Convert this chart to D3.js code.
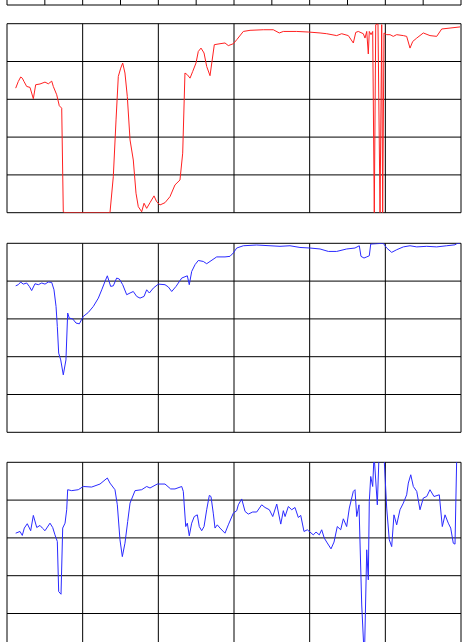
<!DOCTYPE html>
<html><head><meta charset="utf-8">
<script src="https://cdn.jsdelivr.net/npm/d3@7"></script>
<style>html,body{margin:0;padding:0;background:#fff;overflow:hidden}svg{display:block}</style>
</head><body>
<script>
// x in time units (0..600), y in percent (0..100)
const redSeries = [[11.5,65.9],[14.9,69.4],[18.1,71.8],[20.2,71.2],[22.5,69.4],[26.0,66.8],[30.4,66.3],[34.8,60.3],[37.9,67.7],[43.6,68.1],[50.2,69.1],[54.6,68.2],[59.1,69.6],[61.2,66.8],[65.7,62.4],[69.1,56.6],[72.3,55.3],[74.4,0.5],[76.7,0],[136.1,0],[140.5,19.1],[144.1,49.1],[147.1,72.1],[150.3,76.5],[152.9,79.2],[155.9,73.9],[159.0,61.5],[162.6,38.5],[166.9,27.9],[170.5,10.3],[173.5,3.2],[178.0,0.5],[181.1,5.0],[184.6,2.3],[189.0,5.3],[194.3,8.9],[197.8,5.8],[202.2,4.1],[208.8,5.3],[215.4,8.5],[222.0,14.7],[228.6,17.3],[232.2,31.5],[235.2,73.9],[238.3,73.0],[241.9,71.2],[245.4,74.7],[249.8,79.2],[252.8,85.3],[256.4,87.1],[260.4,84.5],[263.9,77.4],[268.3,72.5],[274.0,88.9],[281.5,89.4],[288.1,89.8],[292.5,88.4],[299.1,89.4],[303.6,91.5],[312.3,95.9],[321.2,96.5],[338.7,96.8],[351.9,96.8],[359.9,95.1],[365.2,95.9],[382.9,95.9],[398.2,95.6],[413.7,95.1],[422.5,94.7],[435.7,93.7],[442.3,94.7],[451.1,93.7],[457.7,89.8],[460.9,95.4],[464.3,95.9],[470.9,94.7],[473.1,92.4],[475.4,95.9],[477.5,84.0],[478.8,95.9],[481.1,94.2],[483.3,95.9],[485.4,0],[487.3,99.5],[490.3,100],[493.0,0],[495.2,99.5],[496.5,0],[498.2,95.1],[501.8,94.2],[506.2,94.2],[510.5,93.3],[515.0,94.2],[523.8,93.7],[528.2,93.3],[532.6,87.1],[536.2,90.6],[541.5,92.4],[550.2,95.1],[559.0,93.7],[567.9,93.3],[574.5,97.2],[585.5,97.7],[598.7,98.3]];

const blueSeriesA = [[11.5,77.5],[14.9,78.1],[18.1,79.5],[21.5,78.4],[26.0,79.0],[29.5,77.2],[32.6,75.0],[37.0,78.6],[41.4,78.1],[45.9,79.0],[50.2,78.4],[54.6,79.5],[59.1,79.3],[62.1,75.4],[64.8,66.6],[66.5,56.0],[68.3,41.9],[71.0,38.3],[74.4,30.4],[77.9,38.3],[80.2,63.1],[82.3,60.4],[86.8,60.0],[91.2,57.8],[95.6,57.4],[100.8,61.3],[107.4,63.4],[114.1,66.6],[120.7,71.0],[125.2,75.4],[129.5,79.8],[132.6,82.8],[137.0,77.2],[140.5,77.5],[144.9,81.6],[148.4,81.1],[152.9,78.1],[158.2,72.8],[162.6,73.7],[166.9,74.5],[171.4,71.9],[175.8,71.0],[181.1,71.9],[184.6,75.4],[188.1,73.7],[193.4,76.3],[200.0,78.4],[208.8,78.1],[213.2,76.9],[217.7,74.5],[223.4,77.2],[230.9,81.6],[238.3,82.8],[240.9,78.1],[244.1,85.1],[248.5,88.7],[252.8,90.9],[259.4,90.4],[263.9,89.2],[268.3,90.4],[277.1,92.8],[288.1,92.8],[294.7,93.1],[299.1,94.9],[303.6,97.5],[312.3,98.7],[330.0,99.1],[347.6,98.7],[360.8,98.4],[374.0,98.7],[387.2,97.8],[400.4,97.5],[413.7,97.0],[424.7,95.7],[435.7,95.7],[448.9,97.0],[459.9,97.5],[465.6,98.7],[467.8,93.1],[471.8,92.2],[475.4,92.8],[478.8,93.4],[480.7,99.6],[488.6,99.8],[497.3,100],[501.8,97.5],[508.4,95.2],[515.0,96.6],[523.8,98.1],[532.6,98.7],[541.5,98.1],[554.7,98.4],[567.9,98.1],[581.1,98.7],[592.1,99.2],[595.1,100],[598.7,100]];

const blueSeriesB = [[11.5,62.5],[17.2,63.4],[20.2,61.3],[22.9,65.2],[26.8,67.5],[31.3,63.8],[34.8,71.9],[39.3,65.5],[43.6,66.6],[46.7,65.2],[50.2,63.8],[56.8,67.8],[60.4,65.5],[63.4,61.6],[66.5,58.1],[68.3,31.6],[71.4,30.2],[73.6,65.2],[76.7,67.8],[78.9,74.9],[80.2,85.5],[85.5,85.0],[94.2,85.5],[100.8,87.2],[111.9,86.9],[122.9,88.5],[132.6,91.7],[136.1,89.0],[142.7,85.5],[145.8,77.5],[149.3,59.0],[152.4,50.1],[155.9,57.2],[159.5,68.7],[162.6,78.4],[169.2,85.0],[178.0,85.5],[184.6,87.2],[189.0,86.4],[198.6,88.5],[208.8,88.5],[216.3,85.9],[222.0,85.9],[230.9,87.2],[233.0,84.6],[236.2,66.0],[238.3,67.8],[240.9,61.1],[244.1,67.8],[247.5,71.3],[251.5,72.2],[254.1,66.0],[257.3,63.8],[260.4,66.0],[263.9,74.9],[267.4,82.5],[269.6,81.9],[272.6,73.1],[274.9,65.2],[277.9,66.9],[281.5,65.2],[288.1,62.5],[292.5,66.9],[299.1,73.1],[303.6,74.4],[305.7,77.5],[310.2,80.6],[314.6,74.0],[318.9,72.6],[324.7,73.7],[330.0,73.7],[336.6,77.5],[341.0,76.1],[346.7,74.9],[351.2,71.3],[356.5,77.9],[361.8,67.3],[365.2,74.4],[367.5,71.3],[371.8,76.6],[376.3,74.9],[380.6,76.1],[385.0,70.8],[388.2,71.9],[392.5,63.4],[396.9,64.3],[400.4,63.1],[404.8,61.6],[408.4,63.1],[412.7,61.6],[415.9,64.3],[419.3,59.9],[422.5,57.8],[428.2,54.2],[432.2,57.8],[436.5,66.0],[441.0,64.3],[444.5,70.1],[448.9,66.0],[452.4,75.8],[457.7,84.6],[459.9,85.5],[462.2,71.3],[465.2,77.5],[468.8,24.5],[472.3,-4.6],[475.4,53.7],[477.5,37.8],[478.8,79.3],[480.7,92.5],[483.3,87.2],[485.1,104],[489.4,77.5],[491.7,104],[498.2,104],[501.8,75.8],[505.2,59.0],[508.4,55.4],[511.4,72.2],[515.0,66.9],[519.4,74.9],[523.8,78.4],[528.2,82.8],[530.4,89.0],[533.6,93.4],[537.0,87.2],[541.5,84.6],[545.8,74.9],[550.2,81.1],[554.7,81.9],[559.0,85.5],[564.3,81.9],[571.3,82.8],[575.3,66.0],[578.9,72.2],[583.2,67.8],[586.4,65.2],[589.8,57.2],[592.1,56.7],[594.4,104],[597.8,104],[600,104]];

const xDomain = [0, 600];
const yDomain = [0, 100];
const panelColumns = [12, 6, 6, 6];
const panelRows = 5;

const W = 466, H = 642;
const svg = d3.select("body").append("svg").attr("width", W).attr("height", H);

const left = 7, right = 461, ph = 189;
const panelTops = [-184, 23.7, 243.3, 462.3];
const panels = [
  {top: panelTops[0], data: null, color: null, cols: panelColumns[0]},
  {top: panelTops[1], data: redSeries, color: "#ff2020", cols: panelColumns[1]},
  {top: panelTops[2], data: blueSeriesA, color: "#2a2aff", cols: panelColumns[2]},
  {top: panelTops[3], data: blueSeriesB, color: "#2a2aff", cols: panelColumns[3]}
];

const x = d3.scaleLinear().domain(xDomain).range([left, right]);

panels.forEach((p, i) => {
  const y = d3.scaleLinear().domain(yDomain).range([p.top + ph, p.top]);
  const g = svg.append("g");
  const clipId = "clip" + i;
  svg.append("clipPath").attr("id", clipId).append("rect")
    .attr("x", left).attr("y", p.top).attr("width", right - left).attr("height", ph);

  // vertical grid
  const xt = d3.range(p.cols + 1).map(k => xDomain[0] + k * (xDomain[1] - xDomain[0]) / p.cols);
  g.selectAll("line.v").data(xt).join("line")
    .attr("x1", d => x(d)).attr("x2", d => x(d))
    .attr("y1", p.top).attr("y2", p.top + ph)
    .attr("stroke", "#000").attr("stroke-width", 1);
  // horizontal grid
  const yt = d3.range(panelRows + 1).map(k => yDomain[0] + k * (yDomain[1] - yDomain[0]) / panelRows);
  g.selectAll("line.h").data(yt).join("line")
    .attr("x1", left).attr("x2", right)
    .attr("y1", d => y(d)).attr("y2", d => y(d))
    .attr("stroke", "#000").attr("stroke-width", 1);

  if (p.data) {
    const line = d3.line().x(d => x(d[0])).y(d => y(d[1]));
    svg.append("path").datum(p.data)
      .attr("clip-path", `url(#${clipId})`)
      .attr("d", line).attr("fill", "none")
      .attr("stroke", p.color).attr("stroke-width", 1)
      .attr("stroke-linejoin", "round");
  }
});
</script>
</body></html>
